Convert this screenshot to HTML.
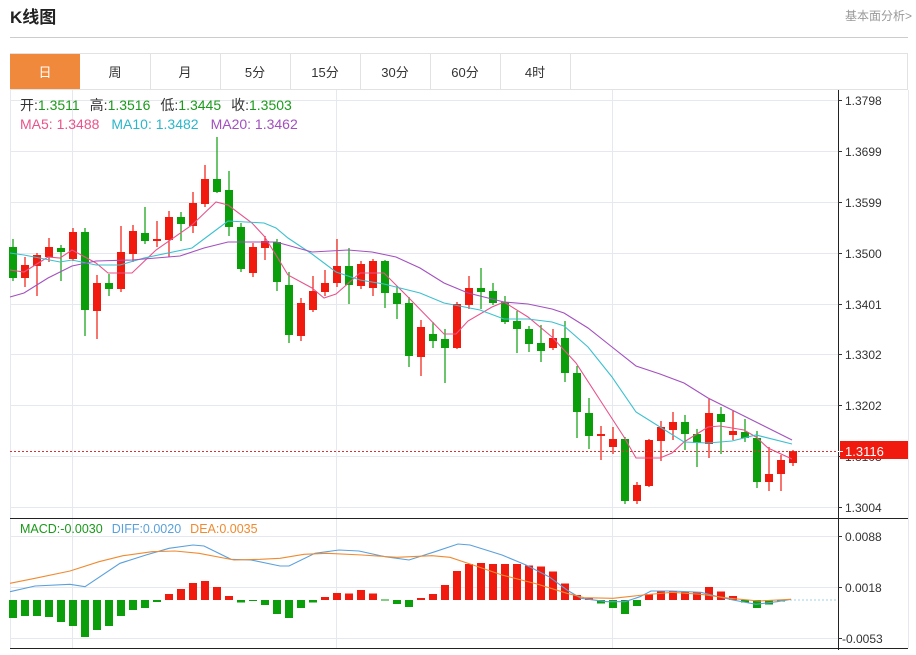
<!DOCTYPE html>
<html><head><meta charset="utf-8"><style>
body{margin:0;background:#fff;width:916px;height:650px;overflow:hidden;font-family:"Liberation Sans","Noto Sans CJK SC",sans-serif}
</style></head><body>
<svg width="916" height="650" xmlns="http://www.w3.org/2000/svg" font-family="Liberation Sans, Noto Sans CJK SC, sans-serif">
<text x="10" y="23" font-size="17" font-weight="bold" fill="#222">K线图</text>
<text x="912" y="20" font-size="12" fill="#999" text-anchor="end">基本面分析&gt;</text>
<line x1="10" y1="37.5" x2="908" y2="37.5" stroke="#ccc"/>
<rect x="10.5" y="53.5" width="897" height="36" fill="#fff" stroke="#e2e2e2"/>
<rect x="10" y="54" width="70" height="35" fill="#f0893c"/>
<g stroke="#e2e2e2"><line x1="150.5" y1="54" x2="150.5" y2="89"/><line x1="220.5" y1="54" x2="220.5" y2="89"/><line x1="290.5" y1="54" x2="290.5" y2="89"/><line x1="360.5" y1="54" x2="360.5" y2="89"/><line x1="430.5" y1="54" x2="430.5" y2="89"/><line x1="500.5" y1="54" x2="500.5" y2="89"/><line x1="570.5" y1="54" x2="570.5" y2="89"/></g>
<g font-size="13" text-anchor="middle" fill="#333"><text x="45" y="77" fill="#fff">日</text><text x="115" y="77">周</text><text x="185" y="77">月</text><text x="255" y="77">5分</text><text x="325" y="77">15分</text><text x="395" y="77">30分</text><text x="465" y="77">60分</text><text x="535" y="77">4时</text></g>
<g stroke="#e6e8ef" stroke-width="1">
<line x1="10" y1="100.5" x2="838" y2="100.5"/><line x1="10" y1="151.5" x2="838" y2="151.5"/><line x1="10" y1="202.5" x2="838" y2="202.5"/><line x1="10" y1="253.5" x2="838" y2="253.5"/><line x1="10" y1="304.5" x2="838" y2="304.5"/><line x1="10" y1="354.5" x2="838" y2="354.5"/><line x1="10" y1="405.5" x2="838" y2="405.5"/><line x1="10" y1="456.5" x2="838" y2="456.5"/><line x1="10" y1="507.5" x2="838" y2="507.5"/>
<line x1="72.5" y1="90" x2="72.5" y2="648"/><line x1="336.5" y1="90" x2="336.5" y2="648"/><line x1="612.5" y1="90" x2="612.5" y2="648"/>
<line x1="10" y1="536.5" x2="838" y2="536.5"/><line x1="10" y1="587.5" x2="838" y2="587.5"/><line x1="10" y1="638.5" x2="838" y2="638.5"/>
<line x1="10.5" y1="90" x2="10.5" y2="648"/><line x1="908.5" y1="90" x2="908.5" y2="648"/>
</g>
<g font-size="14"><text x="20" y="110"><tspan fill="#333">开:</tspan><tspan fill="#1a9a1a">1.3511</tspan><tspan fill="#333" dx="10">高:</tspan><tspan fill="#1a9a1a">1.3516</tspan><tspan fill="#333" dx="10">低:</tspan><tspan fill="#1a9a1a">1.3445</tspan><tspan fill="#333" dx="10">收:</tspan><tspan fill="#1a9a1a">1.3503</tspan></text>
<text x="20" y="129"><tspan fill="#e8538b">MA5: 1.3488</tspan><tspan fill="#2cb6c9" dx="12">MA10: 1.3482</tspan><tspan fill="#a34fc0" dx="12">MA20: 1.3462</tspan></text></g>
<g stroke="#0a9e0a" stroke-width="1.2" fill="#0a9e0a">
<path fill="none" d="M13,239V281M61,245V281M85,228V336M109,274V296M145,207V244M181,212V241M217,137V193M229,171V236M241,223V272M277,239V291M289,272V343M349,248V304M385,260V308M397,286V319M409,297V367M433,322V348M445,329V383M481,268V309M493,283V305M505,296V324M517,311V353M529,326V352M541,325V362M565,321V382M577,366V438M589,398V449M625,437V504M685,415V450M697,429V467M721,407V454M745,419V442M757,431V488"/>
<g stroke="none">
<rect x="9" y="247" width="8" height="31"/><rect x="57" y="248" width="8" height="4"/><rect x="81" y="232" width="8" height="78"/><rect x="105" y="283" width="8" height="6"/><rect x="141" y="233" width="8" height="8"/><rect x="177" y="217" width="8" height="7"/><rect x="213" y="179" width="8" height="13"/><rect x="225" y="190" width="8" height="37"/><rect x="237" y="227" width="8" height="42"/><rect x="273" y="242" width="8" height="40"/><rect x="285" y="285" width="8" height="50"/><rect x="345" y="266" width="8" height="19"/><rect x="381" y="261" width="8" height="32"/><rect x="393" y="293" width="8" height="11"/><rect x="405" y="303" width="8" height="53"/><rect x="429" y="334" width="8" height="7"/><rect x="441" y="339" width="8" height="9"/><rect x="477" y="288" width="8" height="4"/><rect x="489" y="291" width="8" height="12"/><rect x="501" y="302" width="8" height="20"/><rect x="513" y="321" width="8" height="8"/><rect x="525" y="329" width="8" height="15"/><rect x="537" y="343" width="8" height="8"/><rect x="561" y="338" width="8" height="35"/><rect x="573" y="373" width="8" height="39"/><rect x="585" y="413" width="8" height="23"/><rect x="621" y="439" width="8" height="62"/><rect x="681" y="422" width="8" height="12"/><rect x="693" y="434" width="8" height="9"/><rect x="717" y="414" width="8" height="8"/><rect x="741" y="432" width="8" height="6"/><rect x="753" y="438" width="8" height="44"/>
</g></g>
<g stroke="#f01a0f" stroke-width="1.2" fill="#f01a0f">
<path fill="none" d="M25,257V287M37,253V296M49,238V262M73,228V261M97,275V339M121,226V292M133,225V262M157,221V247M169,211V257M193,192V233M205,165V207M253,243V277M265,236V260M301,298V341M313,276V312M325,270V296M337,239V287M361,261V289M373,259V296M421,320V376M457,302V349M469,276V309M553,329V350M601,426V460M613,427V454M637,482V504M649,439V487M661,421V461M673,412V440M709,399V458M733,411V440M769,447V491M781,455V491M793,450V466"/>
<g stroke="none">
<rect x="21" y="265" width="8" height="13"/><rect x="33" y="255" width="8" height="11"/><rect x="45" y="247" width="8" height="10"/><rect x="69" y="232" width="8" height="27"/><rect x="93" y="283" width="8" height="28"/><rect x="117" y="252" width="8" height="37"/><rect x="129" y="231" width="8" height="23"/><rect x="153" y="239" width="8" height="2"/><rect x="165" y="217" width="8" height="23"/><rect x="189" y="203" width="8" height="23"/><rect x="201" y="179" width="8" height="25"/><rect x="249" y="247" width="8" height="26"/><rect x="261" y="241" width="8" height="7"/><rect x="297" y="303" width="8" height="33"/><rect x="309" y="291" width="8" height="19"/><rect x="321" y="283" width="8" height="9"/><rect x="333" y="266" width="8" height="17"/><rect x="357" y="264" width="8" height="22"/><rect x="369" y="261" width="8" height="27"/><rect x="417" y="327" width="8" height="30"/><rect x="453" y="304" width="8" height="44"/><rect x="465" y="288" width="8" height="17"/><rect x="549" y="338" width="8" height="10"/><rect x="597" y="434" width="8" height="2"/><rect x="609" y="439" width="8" height="8"/><rect x="633" y="485" width="8" height="16"/><rect x="645" y="440" width="8" height="46"/><rect x="657" y="427" width="8" height="14"/><rect x="669" y="422" width="8" height="8"/><rect x="705" y="413" width="8" height="31"/><rect x="729" y="431" width="8" height="4"/><rect x="765" y="474" width="8" height="8"/><rect x="777" y="460" width="8" height="14"/><rect x="789" y="451" width="8" height="12"/>
</g></g>
<g fill="none" stroke-width="1.1">
<polyline stroke="#e8538b" points="10,270 24,272 48,257 60,258 72,250 96,263 108,273 132,273 156,250 192,225 216,202 228,205 252,223 264,236 276,255 288,275 312,288 324,298 336,294 360,273 384,273 408,297 444,334 456,334 468,321 492,307 504,302 528,317 552,337 576,363 600,400 624,437 636,458 660,458 672,453 684,442 708,427 720,426 744,430 756,437 768,448 792,459"/>
<polyline stroke="#3cc0d0" points="10,253 24,255 60,262 72,260 96,265 120,265 144,258 192,248 216,230 228,221 264,223 276,228 288,238 312,254 336,272 360,280 384,284 400,288 420,293 444,303 480,310 504,319 528,319 552,322 564,326 588,347 612,377 636,412 660,427 684,442 708,443 732,441 756,435 792,444"/>
<polyline stroke="#a34fc0" points="10,297 24,293 48,278 72,266 96,261 132,260 180,256 204,248 228,242 276,242 312,252 348,250 372,252 396,257 420,268 444,283 468,293 504,302 528,304 552,309 564,313 588,328 612,347 636,366 660,374 684,383 708,398 732,410 756,422 792,440"/>
</g>
<line x1="10" y1="451.5" x2="838" y2="451.5" stroke="#e03030" stroke-dasharray="2,2"/>
<g fill="#0a9e0a">
<rect x="9" y="600" width="8" height="18"/><rect x="21" y="600" width="8" height="16"/><rect x="33" y="600" width="8" height="16"/><rect x="45" y="600" width="8" height="17"/><rect x="57" y="600" width="8" height="22"/><rect x="69" y="600" width="8" height="26"/><rect x="81" y="600" width="8" height="37"/><rect x="93" y="600" width="8" height="30"/><rect x="105" y="600" width="8" height="26"/><rect x="117" y="600" width="8" height="16"/><rect x="129" y="600" width="8" height="10"/><rect x="141" y="600" width="8" height="8"/><rect x="153" y="600" width="8" height="2"/>
<rect x="237" y="600" width="8" height="2.5"/><rect x="249" y="600" width="8" height="1"/><rect x="261" y="600" width="8" height="5"/><rect x="273" y="600" width="8" height="14"/><rect x="285" y="600" width="8" height="18"/><rect x="297" y="600" width="8" height="8"/><rect x="309" y="600" width="8" height="2.5"/>
<rect x="381" y="599.5" width="8" height="1"/><rect x="393" y="600" width="8" height="4"/><rect x="405" y="600" width="8" height="7"/>
<rect x="597" y="600" width="8" height="3.5"/><rect x="609" y="600" width="8" height="8"/><rect x="621" y="600" width="8" height="14"/><rect x="633" y="600" width="8" height="6"/>
<rect x="741" y="600" width="8" height="2.5"/><rect x="753" y="600" width="8" height="8"/><rect x="765" y="600" width="8" height="4.5"/><rect x="777" y="600" width="8" height="1.5"/>
</g>
<g fill="#f01a0f">
<rect x="165" y="594" width="8" height="6"/><rect x="177" y="589" width="8" height="11"/><rect x="189" y="583" width="8" height="17"/><rect x="201" y="581" width="8" height="19"/><rect x="213" y="587" width="8" height="13"/><rect x="225" y="596" width="8" height="4"/>
<rect x="321" y="597" width="8" height="3"/><rect x="333" y="593" width="8" height="7"/><rect x="345" y="593.5" width="8" height="6.5"/><rect x="357" y="590" width="8" height="10"/><rect x="369" y="593.5" width="8" height="6.5"/>
<rect x="417" y="598" width="8" height="2"/><rect x="429" y="594" width="8" height="6"/><rect x="441" y="585" width="8" height="15"/><rect x="453" y="571" width="8" height="29"/><rect x="465" y="564" width="8" height="36"/><rect x="477" y="563" width="8" height="37"/><rect x="489" y="564" width="8" height="36"/><rect x="501" y="564" width="8" height="36"/><rect x="513" y="564" width="8" height="36"/><rect x="525" y="565.5" width="8" height="34.5"/><rect x="537" y="566.5" width="8" height="33.5"/><rect x="549" y="571.5" width="8" height="28.5"/><rect x="561" y="583.5" width="8" height="16.5"/><rect x="573" y="595" width="8" height="5"/><rect x="585" y="598" width="8" height="2"/>
<rect x="645" y="594" width="8" height="6"/><rect x="657" y="591.5" width="8" height="8.5"/><rect x="669" y="591.5" width="8" height="8.5"/><rect x="681" y="592" width="8" height="8"/><rect x="693" y="592" width="8" height="8"/><rect x="705" y="587" width="8" height="13"/><rect x="717" y="591.5" width="8" height="8.5"/><rect x="729" y="596" width="8" height="4"/>
</g>
<line x1="790" y1="600" x2="836" y2="600" stroke="#9fd3ea" stroke-dasharray="2,2"/>
<g fill="none" stroke-width="1.1">
<polyline stroke="#5aa0dc" points="10,591.7 35,586 70,584.3 85,586.7 120,563.3 146,555 169,548.3 193,545 204,546 231,559.3 251,560 280,566 289,566 315,553.3 339,550 359,551 385,556.7 409,560 435,551.7 458,544 470,545 502,555 526,565 549,576.7 567,590 581,598.3 607,601.7 625,601.7 640,596.7 651,591 672,591 701,592.3 718,596.7 733,600 756,604.3 777,601.7 791,599.3"/>
<polyline stroke="#f08a30" points="10,583.3 35,578.3 70,571 99,561.7 123,555.7 152,551.7 175,551 199,553.3 234,560 260,559.3 280,558.3 304,554.3 327,553.3 362,555 397,557.3 432,555.7 450,557.3 473,565 502,575 537,584 567,593.3 584,597.7 613,598.3 643,595 672,592.3 701,594.3 730,598.3 759,601 791,599.3"/>
</g>
<g font-size="12.5"><text x="20" y="533"><tspan fill="#1a9a1a">MACD:-0.0030</tspan><tspan fill="#5aa0dc" dx="9">DIFF:0.0020</tspan><tspan fill="#f08a30" dx="9">DEA:0.0035</tspan></text></g>
<line x1="838.5" y1="90" x2="838.5" y2="650" stroke="#222"/>
<line x1="10" y1="518.5" x2="908" y2="518.5" stroke="#222"/>
<line x1="10" y1="648.5" x2="908" y2="648.5" stroke="#222"/>
<g stroke="#333"><line x1="838" y1="100.5" x2="842" y2="100.5"/><line x1="838" y1="151.5" x2="842" y2="151.5"/><line x1="838" y1="202.5" x2="842" y2="202.5"/><line x1="838" y1="253.5" x2="842" y2="253.5"/><line x1="838" y1="304.5" x2="842" y2="304.5"/><line x1="838" y1="354.5" x2="842" y2="354.5"/><line x1="838" y1="405.5" x2="842" y2="405.5"/><line x1="838" y1="456.5" x2="842" y2="456.5"/><line x1="838" y1="507.5" x2="842" y2="507.5"/><line x1="838" y1="536.5" x2="842" y2="536.5"/><line x1="838" y1="587.5" x2="842" y2="587.5"/><line x1="838" y1="638.5" x2="842" y2="638.5"/></g>
<g font-size="12" fill="#333"><text x="845" y="105">1.3798</text><text x="845" y="156">1.3699</text><text x="845" y="207">1.3599</text><text x="845" y="258">1.3500</text><text x="845" y="309">1.3401</text><text x="845" y="359">1.3302</text><text x="845" y="410">1.3202</text><text x="845" y="461">1.3103</text><text x="845" y="512">1.3004</text><text x="845" y="541">0.0088</text><text x="845" y="592">0.0018</text><text x="842" y="643">-0.0053</text></g>
<rect x="840" y="441" width="68" height="18" fill="#f01a0f"/>
<line x1="838" y1="451.5" x2="843" y2="451.5" stroke="#fff"/>
<text x="845" y="456" font-size="13" fill="#fff">1.3116</text>
</svg>
</body></html>
